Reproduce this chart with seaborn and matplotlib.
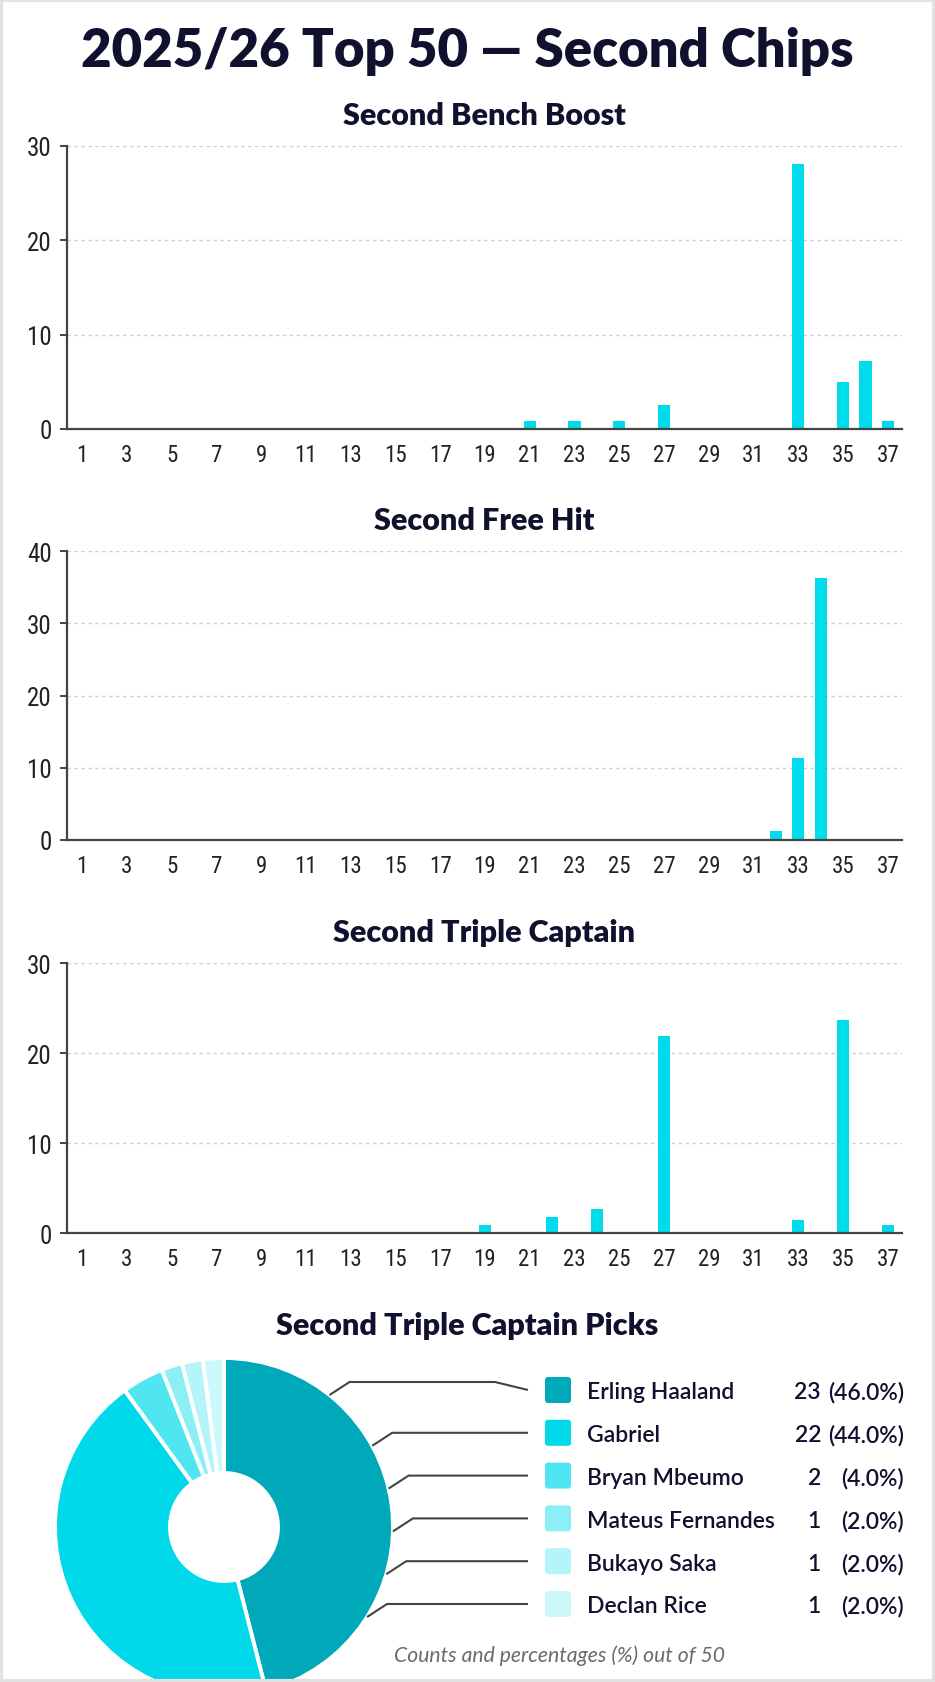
import numpy as np
import pandas as pd
import matplotlib
matplotlib.use("Agg")
import matplotlib.pyplot as plt
import seaborn as sns
from matplotlib import font_manager
from matplotlib.patches import FancyBboxPatch, Rectangle

# ---------------- data ----------------
gameweeks = list(range(1, 38))

bb_gws = [21, 23, 25, 27, 33, 35, 36, 37]
bb_counts = [0.8, 0.8, 0.8, 2.5, 28.1, 5.0, 7.2, 0.8]

fh_gws = [32, 33, 34]
fh_counts = [1.2, 11.4, 36.2]

tc_gws = [19, 22, 24, 27, 33, 35, 37]
tc_counts = [0.9, 1.8, 2.7, 21.9, 1.4, 23.7, 0.9]

chart_titles = ["Second Bench Boost", "Second Free Hit", "Second Triple Captain"]
y_maxes = [30, 40, 30]

pick_names = ["Erling Haaland", "Gabriel", "Bryan Mbeumo", "Mateus Fernandes",
              "Bukayo Saka", "Declan Rice"]
pick_counts = [23, 22, 2, 1, 1, 1]
pick_total = 50

main_title = "2025/26 Top 50 \u2014 Second Chips"
pie_title = "Second Triple Captain Picks"
footnote = "Counts and percentages (%) out of 50"

# ---------------- style ----------------
W, H = 935, 1683
DPI = 100
NAVY = "#10112e"
BAR = "#00dcec"
AXC = "#444444"
PIE_COLORS = ["#00a9b9", "#00d9ea", "#4fe6f2", "#8ceff6", "#b4f5fa", "#cdf8fb"]

sns.set_theme(style="white")
ttf = font_manager.fontManager.ttflist
avail = {f.name for f in ttf}
MAINF = "Lato" if "Lato" in avail else "DejaVu Sans"

# choose a narrow / condensed face for tick labels
NARROW = None
NARROW_STRETCH = "normal"
for cand in ["Liberation Sans Narrow", "Roboto Condensed", "Noto Sans Condensed",
             "DejaVu Sans Condensed", "Open Sans Condensed", "Noto Sans SemiCondensed",
             "Open Sans SemiCondensed"]:
    if cand in avail:
        NARROW = cand
        break
if NARROW is None:
    others = sorted(n for n in avail if ("Narrow" in n or "Condensed" in n) and "Mono" not in n)
    if others:
        NARROW = others[0]
if NARROW is None:
    for fam in ["Noto Sans", "Open Sans", "Roboto", "DejaVu Sans"]:
        if any(f.name == fam and str(f.stretch) != "normal" for f in ttf):
            NARROW = fam
            NARROW_STRETCH = "condensed"
            break
if NARROW is None:
    NARROW = "Roboto" if "Roboto" in avail else "DejaVu Sans"

plt.rcParams["font.family"] = [MAINF, "DejaVu Sans"]

fig = plt.figure(figsize=(W / DPI, H / DPI), dpi=DPI, facecolor="white")


def px_rect(left, top, right, bottom):
    return [left / W, 1 - bottom / H, (right - left) / W, (bottom - top) / H]


axes_boxes = [
    px_rect(67, 147, 902, 430),
    px_rect(67, 552, 902, 841),
    px_rect(67, 964, 902, 1234),
]
series = [(bb_gws, bb_counts), (fh_gws, fh_counts), (tc_gws, tc_counts)]

for box, (gws, counts), title, ymax in zip(axes_boxes, series, chart_titles, y_maxes):
    ax = fig.add_axes(box)
    lookup = dict(zip(gws, counts))
    df = pd.DataFrame({"gw": gameweeks, "count": [lookup.get(g, 0) for g in gameweeks]})
    sns.barplot(data=df, x="gw", y="count", order=gameweeks, color=BAR,
                saturation=1, width=0.54, errorbar=None, ax=ax, linewidth=0)
    ax.set_xlim(-0.67, 36.63)
    ax.set_ylim(0, ymax)
    ax.set_yticks(list(range(0, ymax + 1, 10)))
    ax.set_xticks(list(range(0, len(gameweeks), 2)))
    ax.set_xticklabels([str(g) for g in gameweeks[::2]])
    ax.set_xlabel("")
    ax.set_ylabel("")
    ax.set_axisbelow(True)
    ax.yaxis.grid(True, linestyle=(0, (2.5, 2.5)), color="#cfcfcf", linewidth=1)
    ax.xaxis.grid(False)
    for s in ["top", "right"]:
        ax.spines[s].set_visible(False)
    for s in ["left", "bottom"]:
        ax.spines[s].set_color(AXC)
        ax.spines[s].set_linewidth(1.6)
    ax.tick_params(axis="y", length=5, width=1.4, color=AXC, pad=6,
                   labelsize=18, labelcolor="#222222", left=True)
    ax.tick_params(axis="x", length=0, pad=10, labelsize=16.5, labelcolor="#222222")
    for lab in ax.get_xticklabels() + ax.get_yticklabels():
        lab.set_fontfamily([NARROW, "DejaVu Sans"])
        lab.set_fontstretch(NARROW_STRETCH)
    ax.set_title(title, fontsize=22, fontweight="heavy", color=NAVY, pad=16)
    ax.set_facecolor("white")

# main title
fig.text(0.5, 1 - 67 / H, main_title, ha="center", va="baseline",
         fontsize=38, fontweight="heavy", color=NAVY)

# ---------------- donut ----------------
cx, cy, R, r_hole = 224, 1528, 169, 54
pax = fig.add_axes(px_rect(cx - R, cy - R, cx + R, cy + R))
pax.pie(pick_counts, colors=PIE_COLORS, startangle=90, counterclock=False,
        radius=1, wedgeprops=dict(width=1 - r_hole / R, edgecolor="white", linewidth=2.8))
pax.set_xlim(-1, 1)
pax.set_ylim(-1, 1)
pax.set_aspect("equal")
pax.axis("off")

# overlay in pixel coordinates for legend, leader lines, texts
ov = fig.add_axes([0, 0, 1, 1], zorder=10)
ov.set_xlim(0, W)
ov.set_ylim(H, 0)
ov.axis("off")
ov.patch.set_alpha(0)

ov.text(W / 2, 1335, pie_title, ha="center", va="baseline", fontsize=22,
        fontweight="heavy", color=NAVY)

row0, row_step = 1391, 42.8
sq = 26
line_end_x = 528
LEG_FS = 16.5
for i, (name, cnt, col) in enumerate(zip(pick_names, pick_counts, PIE_COLORS)):
    ry = row0 + i * row_step
    ov.add_patch(FancyBboxPatch((545 + 3, ry - sq / 2 + 3), sq - 6, sq - 6,
                                boxstyle="round,pad=3", facecolor=col, edgecolor="none"))
    ov.text(587, ry, name, ha="left", va="center_baseline", fontsize=LEG_FS,
            fontweight="semibold", color=NAVY)
    ov.text(821, ry, f"{cnt}", ha="right", va="center_baseline", fontsize=LEG_FS,
            fontweight="semibold", color=NAVY)
    ov.text(904, ry, f"({cnt / pick_total * 100:.1f}%)", ha="right", va="center_baseline",
            fontsize=LEG_FS, fontweight="semibold", color=NAVY)
    # leader line
    yh = ry - 8 if i == 0 else ry
    ys = yh + 13
    xs = cx + np.sqrt(max(R ** 2 - (ys - cy) ** 2, 0))
    xe = xs + 20
    xs_pts = [xs, xe, line_end_x - 33 if i == 0 else line_end_x, line_end_x]
    ys_pts = [ys, yh, yh, ry if i == 0 else yh]
    ov.plot(xs_pts, ys_pts, color=AXC, lw=1.5, solid_capstyle="butt")

ov.text(560, 1662, footnote, ha="center", va="baseline", fontsize=15.2,
        fontstyle="italic", color="#6a6a6a")

# subtle frame
ov.add_patch(Rectangle((1, 1), W - 2, H - 2, facecolor="none", edgecolor="#e2e2e2", lw=3))

fig.savefig("out.png", dpi=DPI, facecolor="white")
